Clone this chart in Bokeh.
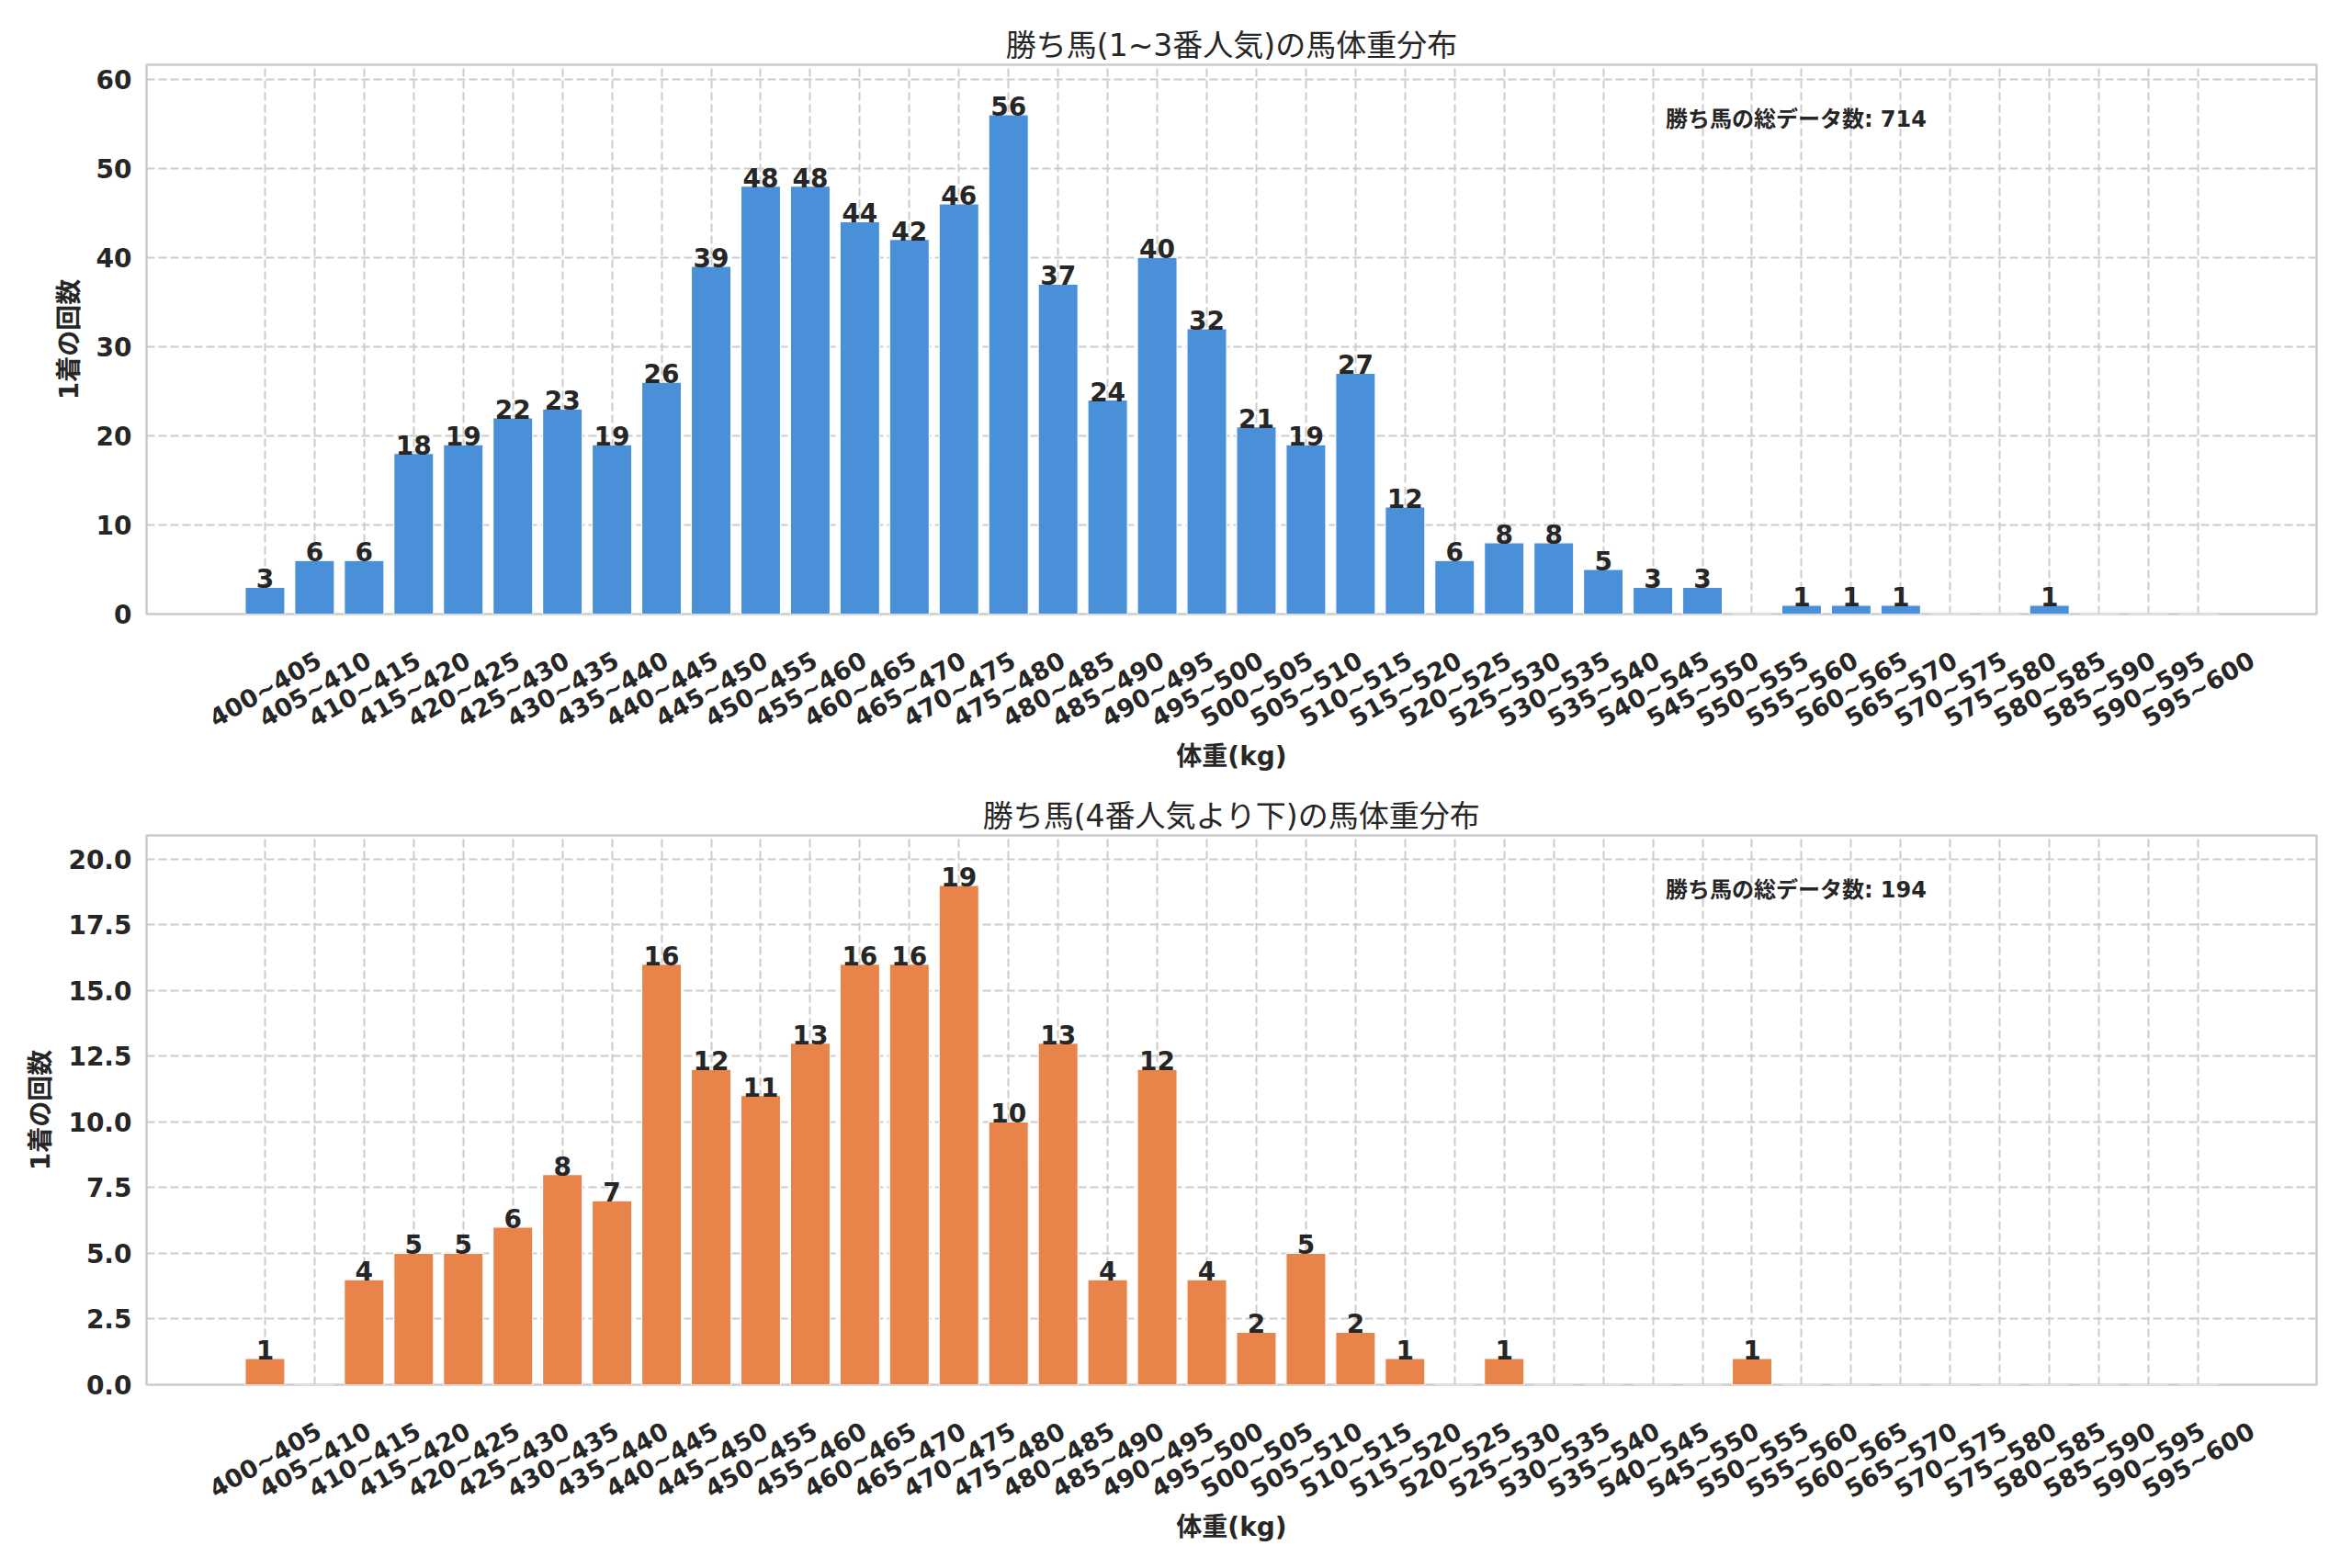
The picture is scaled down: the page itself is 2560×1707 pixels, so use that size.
import math
from bokeh.plotting import figure
from bokeh.models import (ColumnDataSource, Range1d, FixedTicker, Label,
                          NumeralTickFormatter, CustomJSTickFormatter)
from bokeh.layouts import column
from bokeh.embed import file_html
from bokeh.resources import INLINE
from bokeh.core.properties import value

# ---------------- data ----------------
weight_bins = [
    "400~405", "405~410", "410~415", "415~420", "420~425", "425~430", "430~435", "435~440",
    "440~445", "445~450", "450~455", "455~460", "460~465", "465~470", "470~475", "475~480",
    "480~485", "485~490", "490~495", "495~500", "500~505", "505~510", "510~515", "515~520",
    "520~525", "525~530", "530~535", "535~540", "540~545", "545~550", "550~555", "555~560",
    "560~565", "565~570", "570~575", "575~580", "580~585", "585~590", "590~595", "595~600",
]

counts_top3 = [3, 6, 6, 18, 19, 22, 23, 19, 26, 39, 48, 48, 44, 42, 46, 56, 37, 24, 40, 32,
               21, 19, 27, 12, 6, 8, 8, 5, 3, 3, 0, 1, 1, 1, 0, 0, 1, 0, 0, 0]

counts_rest = [1, 0, 4, 5, 5, 6, 8, 7, 16, 12, 11, 13, 16, 16, 19, 10, 13, 4, 12, 4,
               2, 5, 2, 1, 0, 1, 0, 0, 0, 0, 1, 0, 0, 0, 0, 0, 0, 0, 0, 0]

yticks_top = [0, 10, 20, 30, 40, 50, 60]
yticks_bottom = [0.0, 2.5, 5.0, 7.5, 10.0, 12.5, 15.0, 17.5, 20.0]

title_top = "勝ち馬(1~3番人気)の馬体重分布"
title_bottom = "勝ち馬(4番人気より下)の馬体重分布"
total_label = "勝ち馬の総データ数"
x_label = "体重(kg)"
y_label = "1着の回数"

color_top = "#4A90D9"
color_bottom = "#E8834A"

TEXT = "#262626"
GRID = "#cccccc"
FONT = "DejaVu Sans, Noto Sans CJK JP"

W = 2544
FRAME_H = 598
PX_PER_UNIT_X = 54.0
LABEL_SHIFT = 59.0 / PX_PER_UNIT_X   # rotated labels are right-anchored in Bokeh


def make_fig(counts, color, title, ymax, yticks, fmt, height, b_top, b_bottom):
    n = len(weight_bins)
    xs = list(range(n))
    xr0, xr1 = -2.39, n - 1 + 2.39
    p = figure(width=W, height=height, output_backend="svg", toolbar_location=None,
               x_range=Range1d(xr0, xr1), y_range=Range1d(0, ymax),
               min_border_left=159, min_border_right=23,
               min_border_top=b_top, min_border_bottom=b_bottom)
    p.background_fill_color = "white"
    p.border_fill_color = "white"
    p.outline_line_color = GRID
    p.outline_line_width = 2.5

    src = ColumnDataSource(dict(x=xs, top=counts))
    p.vbar(x="x", top="top", width=0.8, source=src, fill_color=color,
           line_color="white", line_width=1.2)

    # value labels (non-zero only)
    lx = [i for i, c in enumerate(counts) if c > 0]
    lv = [counts[i] for i in lx]
    lsrc = ColumnDataSource(dict(x=lx, y=lv, t=[str(v) for v in lv]))
    p.text(x="x", y="y", text="t", source=lsrc, text_align="center",
           text_baseline="bottom", y_offset=1,
           text_font=value("DejaVu Sans"), text_font_style="bold",
           text_font_size="28px", text_color=TEXT)

    # title
    p.title.text = title
    p.title.align = "center"
    p.title.text_font = FONT
    p.title.text_font_size = "33px"
    p.title.text_font_style = "normal"
    p.title.text_color = TEXT
    p.title.standoff = 4

    # grids
    p.xgrid.ticker = FixedTicker(ticks=xs)
    for g in (p.xgrid, p.ygrid):
        g.grid_line_color = GRID
        g.grid_line_width = 2
        g.grid_line_dash = "9 4"

    # x axis: rotated category labels
    p.xaxis.ticker = FixedTicker(ticks=[i + LABEL_SHIFT for i in xs])
    p.xaxis.formatter = CustomJSTickFormatter(
        args=dict(labels=weight_bins, shift=LABEL_SHIFT),
        code="const i = Math.round(tick - shift); return labels[i];")
    p.xaxis.major_label_orientation = math.pi / 6
    p.xaxis.major_label_standoff = 48
    p.xaxis.major_label_text_font = "DejaVu Sans"
    p.xaxis.major_label_text_font_size = "27px"
    p.xaxis.major_label_text_font_style = "bold"
    p.xaxis.major_label_text_color = TEXT
    p.xaxis.axis_line_color = None
    p.xaxis.major_tick_line_color = None
    p.xaxis.minor_tick_line_color = None
    p.xaxis.major_tick_out = 0
    p.xaxis.major_tick_in = 0
    p.xaxis.axis_label = x_label
    p.xaxis.axis_label_text_font = FONT
    p.xaxis.axis_label_text_font_size = "28px"
    p.xaxis.axis_label_text_font_style = "bold"
    p.xaxis.axis_label_text_color = TEXT
    p.xaxis.axis_label_standoff = -7

    # y axis
    p.yaxis.ticker = FixedTicker(ticks=yticks)
    p.yaxis.formatter = NumeralTickFormatter(format=fmt)
    p.yaxis.axis_line_color = None
    p.yaxis.major_tick_line_color = None
    p.yaxis.minor_tick_line_color = None
    p.yaxis.major_tick_out = 0
    p.yaxis.major_tick_in = 0
    p.yaxis.major_label_standoff = 16
    p.yaxis.major_label_text_font = "DejaVu Sans"
    p.yaxis.major_label_text_font_size = "28px"
    p.yaxis.major_label_text_font_style = "bold"
    p.yaxis.major_label_text_color = TEXT
    p.yaxis.axis_label = y_label
    p.yaxis.axis_label_text_font = FONT
    p.yaxis.axis_label_text_font_size = "28px"
    p.yaxis.axis_label_text_font_style = "bold"
    p.yaxis.axis_label_text_color = TEXT
    p.yaxis.axis_label_standoff = 10

    total = sum(counts)
    p.add_layout(Label(x=xr0 + 0.70 * (xr1 - xr0), y=(0.95 - 16.0 / FRAME_H) * ymax,
                       text=f"{total_label}: {total}", text_align="left",
                       text_baseline="top", text_font=FONT,
                       text_font_size="24px", text_font_style="bold",
                       text_color=TEXT))
    return p


p1 = make_fig(counts_top3, color_top, title_top, 61.6, yticks_top, "0",
              848, 70, 180)
p2 = make_fig(counts_rest, color_bottom, title_bottom, 20.9, yticks_bottom, "0.0",
              843, 61, 184)

layout = column(p1, p2)
open("out.html", "w").write(file_html(layout, INLINE))
